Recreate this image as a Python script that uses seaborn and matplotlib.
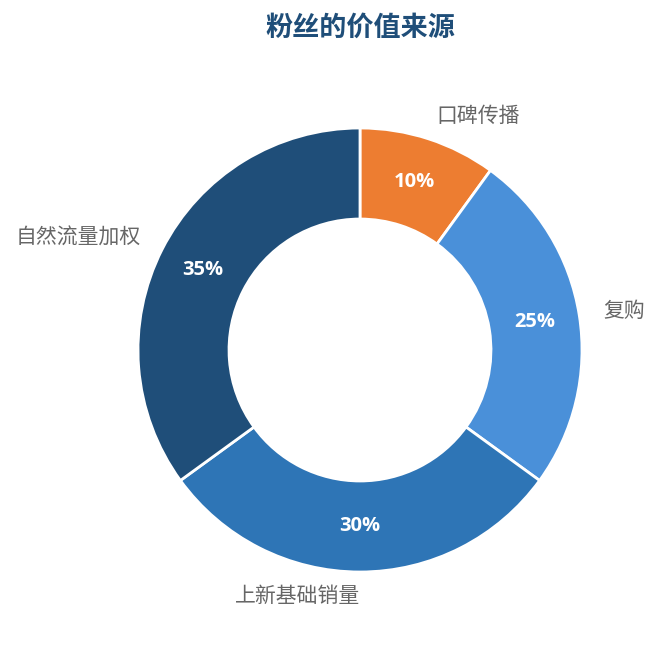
import matplotlib
matplotlib.use('Agg')
import matplotlib.pyplot as plt
import seaborn as sns

# data
categories = ['口碑传播', '复购', '上新基础销量', '自然流量加权']
shares = [10, 25, 30, 35]
colors = ['#ED7D31', '#4A90D9', '#2E75B6', '#1F4E79']

sns.set_theme(style='white')
plt.rcParams['font.family'] = ['Noto Sans CJK SC', 'DejaVu Sans']

fig = plt.figure(figsize=(6.6, 6.45), dpi=100, facecolor='white')

# square axes, donut centre at (360, 350) px, radius 222 px
L = 1.5
side = 2 * L * 222
ax = fig.add_axes([(360 - side / 2) / 660, (645 - 350 - side / 2) / 645,
                   side / 660, side / 645])

wedges, texts, autotexts = ax.pie(
    shares,
    labels=categories,
    colors=sns.color_palette(colors),
    startangle=90,
    counterclock=False,
    labeldistance=1.11,
    pctdistance=0.795,
    autopct='%d%%',
    wedgeprops=dict(width=0.41, edgecolor='white', linewidth=2),
    textprops=dict(fontsize=15, color='#666666'),
)

for t in texts:
    x, _ = t.get_position()
    t.set_ha('left' if x > 1e-6 else 'right')

for t in autotexts:
    t.set_color('white')
    t.set_fontsize(14.5)
    t.set_fontweight('bold')
    t.set_family(['Open Sans', 'DejaVu Sans'])

ax.set_xlim(-L, L)
ax.set_ylim(-L, L)
ax.axis('off')

fig.text(360 / 660, 1 - 28 / 645, '粉丝的价值来源', ha='center', va='center',
         fontsize=19.5, fontweight='bold', color='#1F4E79')

fig.savefig('out.png', dpi=100, facecolor='white')
